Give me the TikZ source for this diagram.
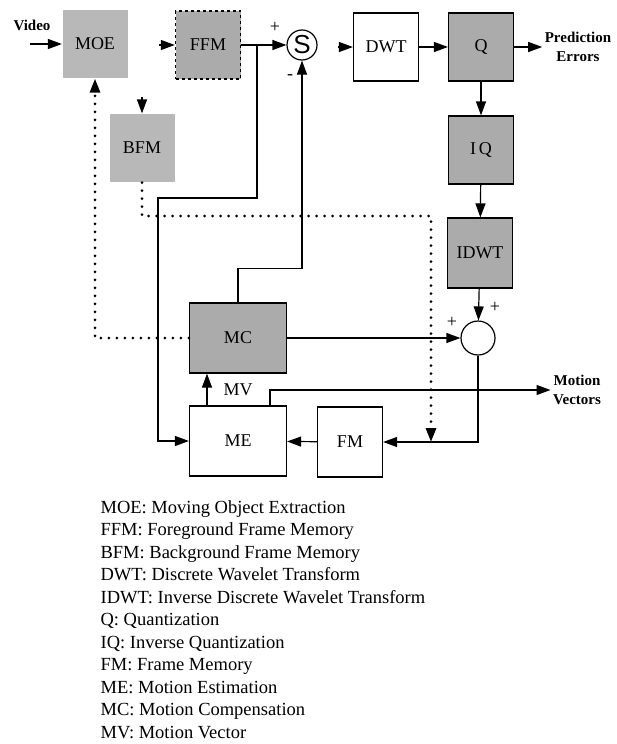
\documentclass[tikz,border=0pt]{standalone}
\usepackage{fontspec}
\setmainfont{Liberation Serif}
\newfontfamily\ssfont{Liberation Sans}
\usetikzlibrary{arrows.meta}

\begin{document}
\begin{tikzpicture}[x=1pt,y=-1pt,>={Triangle[length=14pt,width=10pt]},line width=1.2pt,
  every node/.style={font=\fontsize{18}{21}\selectfont},
  blk/.style={draw,rectangle,minimum width=65pt,minimum height=68pt,inner sep=0pt},
  gbox/.style={blk,fill=black!33},
  softbox/.style={blk,draw=none,fill=black!28},
  wide/.style={minimum width=97pt,minimum height=70pt},
  sum/.style={draw,circle,inner sep=0pt},
  dotline/.style={line width=3pt,line cap=round,dash pattern=on 0pt off 8pt}]
  \useasboundingbox (0,0) rectangle (616,744);
  % upper row
  \node[softbox] (moe) at (95,44) {MOE};
  \node[gbox,dashed,line width=1.4pt] (ffm) at (208,45) {FFM};
  \node[sum,minimum size=30pt] (s) at (302,45) {\ssfont\fontsize{26}{26}\selectfont S};
  \node[blk] (dwt) at (386,47) {DWT};
  \node[gbox] (q) at (481,47) {Q};
  \node[gbox] (iq) at (481,150) {I\,Q};
  \node[gbox,minimum height=70pt] (idwt) at (480,253) {IDWT};
  \node[softbox] (bfm) at (142,148) {BFM};
  % lower part
  \node[gbox,wide] (mc) at (238,338) {MC};
  \node[blk,wide] (me) at (238,441) {ME};
  \node[blk,minimum height=70pt] (fm) at (350,442) {FM};
  \node[sum,minimum size=34pt] (sum2) at (478,338) {};
  % outside texts
  \node[font=\bfseries\fontsize{15}{18}\selectfont] (video) at (32,25) {Video};
  \node[font=\bfseries\fontsize{15}{19}\selectfont,align=center,inner sep=2pt] (pe) at (578,47) {Prediction\\Errors};
  \node[font=\bfseries\fontsize{15}{19}\selectfont,align=center,inner sep=2pt] (mvec) at (577,390) {Motion\\Vectors};
  \node (mv) at (238,390) {MV};
  \node (p1) at (275,27) {+};
  \node (m1) at (290,77) {-};
  \node (p2) at (452,322) {+};
  \node (p3) at (495,307) {+};
  % free ends
  \coordinate (vin) at (30,44);
  \coordinate (fin) at (159,45);
  \coordinate (din) at (338,47);
  \coordinate (bin) at (142,97);
  \coordinate (br) at (257,45);
  \coordinate (b1) at (257,198);
  \coordinate (b2) at (158,198);
  \coordinate (d1) at (431,216);
  \coordinate (d2) at (431,442);
  % connectors
  \draw[->] (vin) -- (moe.west);
  \draw[->] (fin) -- (ffm.west);
  \draw[->] (bin) -- (bfm.north);
  \draw[->] (ffm.east) -- (s.west);
  \draw[->] (din) -- (dwt.west);
  \draw[->] (dwt) -- (q);
  \draw[->] (q.east) -- (pe.west);
  \draw[->] (q) -- (iq);
  \draw[->] (iq) -- (idwt);
  \draw[->] (idwt) -- (sum2);
  \draw[->] (br) -- (b1) -- (b2) |- (me.west);
  \draw[->] (mc.north) -- ++(0,-34) -| (s.south);
  \draw[->] (mc.east) -- (sum2.west);
  \draw[->] (sum2.south) |- (fm.east);
  \draw[->] (fm) -- (me);
  \draw[->] ([xshift=-31pt]me.north) -- ([xshift=-31pt]mc.south);
  \draw[->] ([xshift=32pt]me.north) |- (mvec.west);
  \draw[dotline,->] (mc.west) -| (moe.south);
  \draw[dotline,->] (bfm.south) |- (d1) -- (d2);
  % legend
  \node[anchor=north west,align=left,inner sep=0pt,font=\fontsize{18.5}{22.5}\selectfont] (legend) at (100,500)
    {MOE: Moving Object Extraction\\
     FFM: Foreground Frame Memory\\
     BFM: Background Frame Memory\\
     DWT: Discrete Wavelet Transform\\
     IDWT: Inverse Discrete Wavelet Transform\\
     Q: Quantization\\
     IQ: Inverse Quantization\\
     FM: Frame Memory\\
     ME: Motion Estimation\\
     MC: Motion Compensation\\
     MV: Motion Vector};
\end{tikzpicture}
\end{document}
